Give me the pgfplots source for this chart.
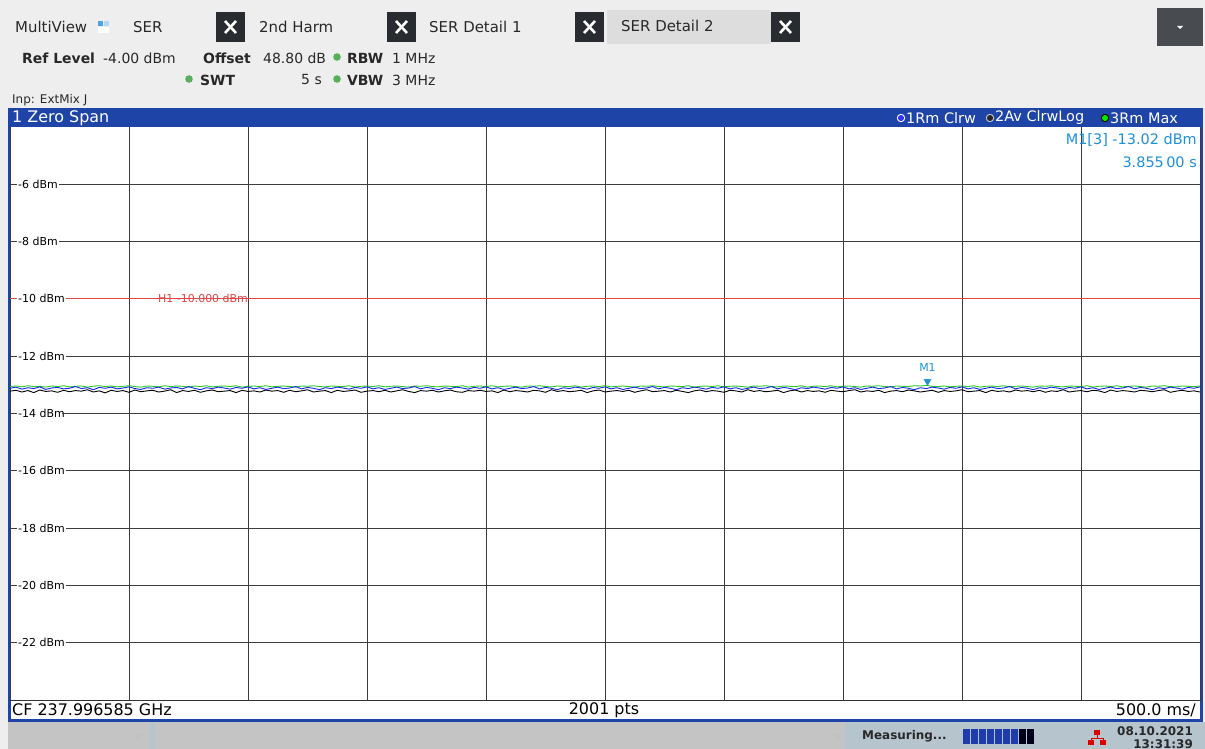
\documentclass[border=0pt]{standalone}
\usepackage{fontspec}
\setmainfont{DejaVu Sans}
\usepackage{pgfplots}
\usepackage{pgfplotstable}
\pgfplotsset{compat=1.18}

\definecolor{bgray}{RGB}{238,238,238}
\definecolor{winblue}{RGB}{31,68,168}
\definecolor{tabdark}{RGB}{40,44,48}
\definecolor{tabsel}{RGB}{221,221,221}
\definecolor{ddbtn}{RGB}{72,76,80}
\definecolor{mkblue}{RGB}{30,144,220}
\definecolor{hlred}{RGB}{225,70,70}
\definecolor{tr1}{RGB}{20,40,230}
\definecolor{tr3}{RGB}{40,200,40}
\definecolor{led}{RGB}{90,175,90}
\definecolor{statgray}{RGB}{196,196,196}
\definecolor{statblue}{RGB}{182,196,206}
\definecolor{progblue}{RGB}{30,60,170}
\definecolor{txt}{RGB}{40,40,40}
\definecolor{gridc}{RGB}{60,60,60}

% zero span traces: t [s], 1Rm Clrw, 2Av ClrwLog, 3Rm Max [dBm]
\pgfplotstableread{
t b k g
0.000 -13.12 -13.22 -13.06
0.025 -13.08 -13.19 -13.04
0.050 -13.15 -13.25 -13.07
0.075 -13.10 -13.20 -13.03
0.100 -13.13 -13.27 -13.06
0.125 -13.07 -13.18 -13.05
0.150 -13.16 -13.23 -13.08
0.175 -13.11 -13.21 -13.04
0.200 -13.09 -13.26 -13.06
0.225 -13.14 -13.19 -13.03
0.250 -13.12 -13.24 -13.07
0.275 -13.06 -13.20 -13.05
0.300 -13.13 -13.22 -13.04
0.325 -13.10 -13.17 -13.08
0.350 -13.17 -13.25 -13.05
0.375 -13.09 -13.21 -13.03
0.400 -13.12 -13.28 -13.06
0.425 -13.08 -13.19 -13.04
0.450 -13.14 -13.23 -13.07
0.475 -13.11 -13.20 -13.05
0.500 -13.07 -13.26 -13.03
0.525 -13.13 -13.18 -13.06
0.550 -13.16 -13.24 -13.08
0.575 -13.10 -13.21 -13.04
0.600 -13.12 -13.19 -13.05
0.625 -13.08 -13.25 -13.07
0.650 -13.15 -13.22 -13.03
0.675 -13.11 -13.17 -13.06
0.700 -13.09 -13.27 -13.04
0.725 -13.14 -13.20 -13.05
0.750 -13.06 -13.23 -13.08
0.775 -13.12 -13.19 -13.04
0.800 -13.17 -13.26 -13.06
0.825 -13.10 -13.21 -13.03
0.850 -13.13 -13.18 -13.07
0.875 -13.08 -13.24 -13.05
0.900 -13.11 -13.22 -13.04
0.925 -13.15 -13.20 -13.06
0.950 -13.09 -13.27 -13.03
0.975 -13.12 -13.19 -13.08
1.000 -13.07 -13.23 -13.05
1.025 -13.14 -13.21 -13.04
1.050 -13.10 -13.25 -13.06
1.075 -13.16 -13.18 -13.03
1.100 -13.12 -13.22 -13.07
1.125 -13.08 -13.20 -13.05
1.150 -13.13 -13.26 -13.04
1.175 -13.11 -13.19 -13.06
1.200 -13.06 -13.24 -13.08
1.225 -13.14 -13.21 -13.04
1.250 -13.09 -13.17 -13.05
1.275 -13.12 -13.25 -13.03
1.300 -13.17 -13.22 -13.06
1.325 -13.10 -13.20 -13.07
1.350 -13.13 -13.27 -13.04
1.375 -13.08 -13.19 -13.05
1.400 -13.11 -13.23 -13.06
1.425 -13.15 -13.21 -13.03
1.450 -13.09 -13.18 -13.08
1.475 -13.12 -13.26 -13.05
1.500 -13.07 -13.22 -13.04
1.525 -13.14 -13.20 -13.06
1.550 -13.10 -13.24 -13.03
1.575 -13.16 -13.19 -13.07
1.600 -13.12 -13.25 -13.05
1.625 -13.08 -13.21 -13.04
1.650 -13.13 -13.17 -13.06
1.675 -13.11 -13.23 -13.08
1.700 -13.06 -13.27 -13.04
1.725 -13.14 -13.20 -13.05
1.750 -13.09 -13.22 -13.03
1.775 -13.12 -13.19 -13.06
1.800 -13.17 -13.25 -13.07
1.825 -13.10 -13.21 -13.04
1.850 -13.13 -13.18 -13.05
1.875 -13.08 -13.24 -13.06
1.900 -13.11 -13.26 -13.03
1.925 -13.15 -13.20 -13.08
1.950 -13.09 -13.22 -13.05
1.975 -13.12 -13.19 -13.04
2.000 -13.07 -13.23 -13.06
2.025 -13.14 -13.21 -13.03
2.050 -13.10 -13.27 -13.07
2.075 -13.16 -13.18 -13.05
2.100 -13.12 -13.24 -13.04
2.125 -13.08 -13.20 -13.06
2.150 -13.13 -13.22 -13.08
2.175 -13.11 -13.25 -13.04
2.200 -13.06 -13.19 -13.05
2.225 -13.14 -13.21 -13.03
2.250 -13.09 -13.26 -13.06
2.275 -13.12 -13.17 -13.07
2.300 -13.17 -13.23 -13.04
2.325 -13.10 -13.20 -13.05
2.350 -13.13 -13.24 -13.06
2.375 -13.08 -13.22 -13.03
2.400 -13.11 -13.19 -13.08
2.425 -13.15 -13.27 -13.05
2.450 -13.09 -13.21 -13.04
2.475 -13.12 -13.18 -13.06
2.500 -13.07 -13.25 -13.03
2.525 -13.14 -13.22 -13.07
2.550 -13.10 -13.20 -13.05
2.575 -13.16 -13.23 -13.04
2.600 -13.12 -13.19 -13.06
2.625 -13.08 -13.26 -13.08
2.650 -13.13 -13.21 -13.04
2.675 -13.11 -13.17 -13.05
2.700 -13.06 -13.24 -13.03
2.725 -13.14 -13.22 -13.06
2.750 -13.09 -13.20 -13.07
2.775 -13.12 -13.25 -13.04
2.800 -13.17 -13.19 -13.05
2.825 -13.10 -13.23 -13.06
2.850 -13.13 -13.27 -13.03
2.875 -13.08 -13.21 -13.08
2.900 -13.11 -13.18 -13.05
2.925 -13.15 -13.24 -13.04
2.950 -13.09 -13.20 -13.06
2.975 -13.12 -13.22 -13.03
3.000 -13.07 -13.26 -13.07
3.025 -13.14 -13.19 -13.05
3.050 -13.10 -13.21 -13.04
3.075 -13.16 -13.25 -13.06
3.100 -13.12 -13.17 -13.08
3.125 -13.08 -13.23 -13.04
3.150 -13.13 -13.20 -13.05
3.175 -13.11 -13.24 -13.03
3.200 -13.06 -13.22 -13.06
3.225 -13.14 -13.19 -13.07
3.250 -13.09 -13.27 -13.04
3.275 -13.12 -13.21 -13.05
3.300 -13.17 -13.18 -13.06
3.325 -13.10 -13.25 -13.03
3.350 -13.13 -13.20 -13.08
3.375 -13.08 -13.23 -13.05
3.400 -13.11 -13.21 -13.04
3.425 -13.15 -13.26 -13.06
3.450 -13.09 -13.19 -13.03
3.475 -13.12 -13.22 -13.07
3.500 -13.07 -13.24 -13.05
3.525 -13.14 -13.20 -13.04
3.550 -13.10 -13.17 -13.06
3.575 -13.16 -13.25 -13.08
3.600 -13.12 -13.21 -13.04
3.625 -13.08 -13.23 -13.05
3.650 -13.13 -13.19 -13.03
3.675 -13.11 -13.27 -13.06
3.700 -13.06 -13.22 -13.07
3.725 -13.14 -13.20 -13.04
3.750 -13.09 -13.24 -13.05
3.775 -13.12 -13.18 -13.06
3.800 -13.17 -13.21 -13.03
3.825 -13.10 -13.25 -13.04
3.850 -13.13 -13.22 -13.02
3.875 -13.08 -13.19 -13.05
3.900 -13.11 -13.26 -13.06
3.925 -13.15 -13.20 -13.04
3.950 -13.09 -13.23 -13.07
3.975 -13.12 -13.21 -13.05
4.000 -13.07 -13.17 -13.04
4.025 -13.14 -13.24 -13.06
4.050 -13.10 -13.22 -13.03
4.075 -13.16 -13.20 -13.08
4.100 -13.12 -13.27 -13.05
4.125 -13.08 -13.19 -13.04
4.150 -13.13 -13.23 -13.06
4.175 -13.11 -13.21 -13.03
4.200 -13.06 -13.25 -13.07
4.225 -13.14 -13.18 -13.05
4.250 -13.09 -13.22 -13.04
4.275 -13.12 -13.20 -13.06
4.300 -13.17 -13.24 -13.08
4.325 -13.10 -13.19 -13.04
4.350 -13.13 -13.26 -13.05
4.375 -13.08 -13.21 -13.03
4.400 -13.11 -13.23 -13.06
4.425 -13.15 -13.17 -13.07
4.450 -13.09 -13.25 -13.04
4.475 -13.12 -13.22 -13.05
4.500 -13.07 -13.20 -13.06
4.525 -13.14 -13.24 -13.03
4.550 -13.10 -13.19 -13.08
4.575 -13.16 -13.21 -13.05
4.600 -13.12 -13.27 -13.04
4.625 -13.08 -13.18 -13.06
4.650 -13.13 -13.23 -13.03
4.675 -13.11 -13.20 -13.07
4.700 -13.06 -13.22 -13.05
4.725 -13.14 -13.25 -13.04
4.750 -13.09 -13.19 -13.06
4.775 -13.12 -13.21 -13.08
4.800 -13.17 -13.24 -13.04
4.825 -13.10 -13.20 -13.05
4.850 -13.13 -13.17 -13.03
4.875 -13.08 -13.26 -13.06
4.900 -13.11 -13.22 -13.07
4.925 -13.15 -13.19 -13.04
4.950 -13.09 -13.23 -13.05
4.975 -13.12 -13.21 -13.06
5.000 -13.07 -13.25 -13.04
}\traces

\newcommand{\fs}[1]{\fontsize{#1}{#1}\selectfont}

\begin{document}
\begin{tikzpicture}[x=1bp, y=-1bp]
\fill[bgray] (0,0) rectangle (1205,749);
\useasboundingbox (0,0) rectangle (1205,749);

% --- tab row
\tikzset{hdr/.style={anchor=west, inner sep=0pt, text=txt}}
\node[hdr, font=\fs{15}] at (15,27) {MultiView};
\fill[mkblue!80] (98,21) rectangle (103,26);
\fill[mkblue!35] (104,21) rectangle (109,26);
\fill[white] (98,27) rectangle (109,33);
\node[hdr, font=\fs{15}] at (133,27) {SER};
\fill[tabsel] (607,10) rectangle (771,44);
\foreach \xa in {216,387,575,771} {
  \fill[tabdark] (\xa,12) rectangle (\xa+29,42);
  \draw[white, line width=2.6bp] (\xa+9,21) -- (\xa+20,33) (\xa+9,33) -- (\xa+20,21);
}
\node[hdr, font=\fs{15}] at (259,27) {2nd Harm};
\node[hdr, font=\fs{15}] at (429,27) {SER Detail 1};
\node[hdr, font=\fs{15}] at (621,26) {SER Detail 2};
\fill[ddbtn] (1157,8) rectangle (1203,46);
\fill[white] (1177,26) -- (1183,26) -- (1180,29) -- cycle;

% --- settings rows
\node[hdr, font=\bfseries\fs{14}] at (22,58) {Ref Level};
\node[hdr, font=\fs{14}] at (103,58) {-4.00 dBm};
\node[hdr, font=\bfseries\fs{14}] at (203,58) {Offset};
\node[hdr, font=\fs{14}] at (263,58) {48.80 dB};
\fill[led] (337,57) circle (3.8);
\node[hdr, font=\bfseries\fs{14}] at (347,58) {RBW};
\node[hdr, font=\fs{14}] at (392,58) {1 MHz};
\fill[led] (189,79) circle (3.8);
\node[hdr, font=\bfseries\fs{14}] at (200,80) {SWT};
\node[anchor=east, inner sep=0pt, text=txt, font=\fs{14}] at (322,80) {5 s};
\fill[led] (337,79) circle (3.8);
\node[hdr, font=\bfseries\fs{14}] at (347,80) {VBW};
\node[hdr, font=\fs{14}] at (392,80) {3 MHz};
\node[hdr, font=\fs{12}] at (12,100) {Inp: ExtMix J};

% --- window frame
\fill[winblue] (8,108) rectangle (1203,127);
\fill[white] (10,127) rectangle (1201,719);
\draw[winblue, line width=2.6bp] (9.3,108) -- (9.3,720.5) -- (1201.7,720.5) -- (1201.7,108);
\node[anchor=west, inner sep=0pt, text=white, font=\fs{16}] at (12,118) {1 Zero Span};
\fill[white] (901,118) circle (4.2);
\fill[blue!80!white] (901,118) circle (3.1);
\node[anchor=west, inner sep=0pt, text=white, font=\fs{14.5}] at (906,118) {1Rm Clrw};
\fill[white!80!black] (990,118) circle (4.2);
\fill[black!85] (990,118) circle (3.1);
\node[anchor=west, inner sep=0pt, text=white, font=\fs{14.5}] at (995,118) {2Av ClrwLog};
\fill[black] (1105,118) circle (4.2);
\fill[green!90!black] (1105,118) circle (3.1);
\node[anchor=west, inner sep=0pt, text=white, font=\fs{14.5}] at (1110,118) {3Rm Max};

\coordinate (ax) at (10,700);
\begin{scope}[x=1cm, y=1cm]
\begin{axis}[
    at={(ax)}, anchor=south west,
    scale only axis, width=1190bp, height=573bp,
    xmin=0, xmax=5, ymin=-24, ymax=-4,
    xtick={0,0.5,...,5}, xticklabels={},
    ytick={-22,-20,-18,-16,-14,-12,-8,-6},
    yticklabels={-22 dBm,-20 dBm,-18 dBm,-16 dBm,-14 dBm,-12 dBm,-8 dBm,-6 dBm},
    % H1 display line at -10 dBm
    extra y ticks={-10},
    extra y tick labels={-10 dBm},
    extra y tick style={major grid style={draw=hlred, line width=1bp}},
    yticklabel style={anchor=west, xshift=7bp, fill=white, inner sep=1bp,
        font=\fs{11}},
    major tick length=0pt,
    xmajorgrids, ymajorgrids,
    major grid style={draw=gridc, line width=1bp},
    axis line style={draw=none},
    clip=false,
]
\addplot[draw=tr3, line width=0.9bp] table[x=t, y=g] {\traces};
\addplot[draw=black, line width=0.9bp] table[x=t, y=k] {\traces};
\addplot[draw=tr1, line width=0.9bp] table[x=t, y=b] {\traces};
\addplot[only marks, mark=triangle*, mark size=4bp,
    mark options={yshift=4bp, rotate=180, fill=mkblue, draw=mkblue}]
    coordinates {(3.855,-13.02)};
\coordinate (h1lab) at (axis cs:0.622,-10);
\coordinate (m1lab) at (axis cs:3.855,-12.55);
\coordinate (g14a) at (axis cs:0,-14);
\coordinate (g14b) at (axis cs:5,-14);
\end{axis}
\end{scope}

% --- labels inside the plot area
\node[anchor=west, inner sep=0pt, text=hlred, font=\fs{11}] at (h1lab) {H1 -10.000 dBm};
\node[anchor=south, inner sep=0pt, text=mkblue, font=\fs{11}] at (m1lab) {M1};
\draw[black!80, line width=1bp] (10,700) -- (1201,700);
\node[anchor=east, inner sep=0pt, text=mkblue, font=\fs{14.5}] at (1197,140) {M1[3] -13.02 dBm};
\node[anchor=east, inner sep=0pt, text=mkblue, font=\fs{14.5}] at (1197,162) {3.855\,00 s};

% --- CF bar
\node[anchor=west, inner sep=0pt, font=\fs{16}] at (12,710) {CF 237.996585 GHz};
\node[inner sep=0pt, font=\fs{16}] at (604,710) {2001 pts};
\node[anchor=east, inner sep=0pt, font=\fs{16}] at (1196,710) {500.0 ms/};

% --- status bar
\fill[statgray] (8,722) rectangle (150,749);
\fill[statblue] (150,722) rectangle (155,749);
\fill[statgray] (155,722) rectangle (845,749);
\fill[statblue] (845,722) rectangle (1205,749);
\draw[black!25, line width=0.6bp] (135,735) -- (141,735) -- (138,739) -- cycle;
\draw[black!25, line width=0.6bp] (835,735) -- (841,735) -- (838,739) -- cycle;
\node[anchor=west, inner sep=0pt, text=txt, font=\bfseries\fs{12}] at (862,736) {Measuring...};
\foreach \i in {0,...,6} { \fill[progblue] (963+\i*8,729) rectangle (963+\i*8+7,744); }
\foreach \i in {7,8} { \fill[black!90!blue] (963+\i*8,729) rectangle (963+\i*8+7,744); }
\fill[red!85!black] (1094,730) rectangle (1100,735);
\fill[red!85!black] (1088,740) rectangle (1094,745);
\fill[red!85!black] (1100,740) rectangle (1106,745);
\draw[red!85!black, line width=1bp] (1097,735) -- (1097,738) (1091,738) -- (1103,738) (1091,738) -- (1091,740) (1103,738) -- (1103,740);
\node[anchor=east, inner sep=0pt, text=txt, font=\bfseries\fs{12}] at (1193,731) {08.10.2021};
\node[anchor=east, inner sep=0pt, text=txt, font=\bfseries\fs{12}] at (1193,744) {13:31:39};

% keep the -14 dBm grid line in the grid colour
\draw[gridc, line width=1.2bp] ([xshift=52bp]g14a) -- (g14b);
\end{tikzpicture}
\end{document}
